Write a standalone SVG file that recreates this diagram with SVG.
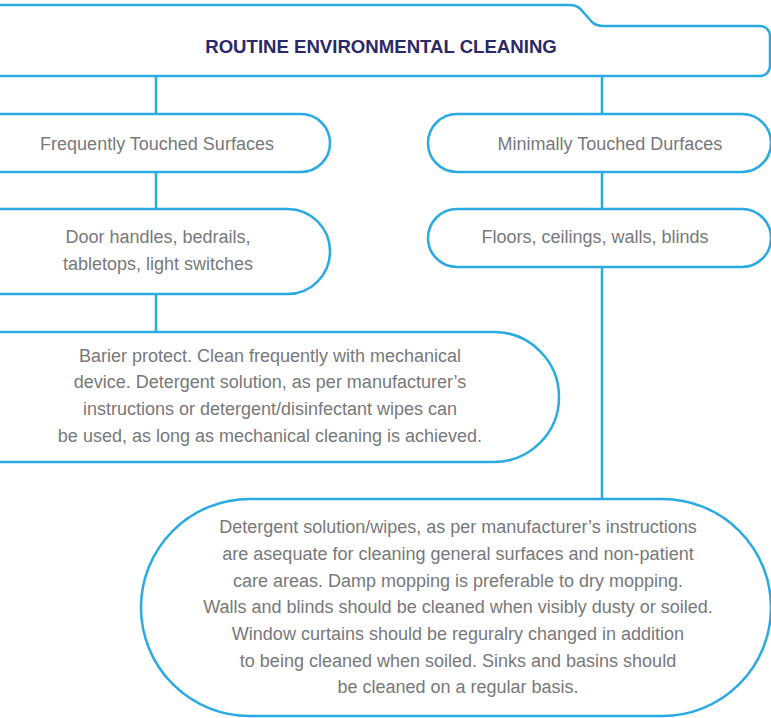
<svg xmlns="http://www.w3.org/2000/svg" width="771" height="718" viewBox="0 0 771 718">
  <style>
    .box { fill: #ffffff; stroke: #29abe2; stroke-width: 2.5; }
    .conn { stroke: #29abe2; stroke-width: 2.5; fill: none; }
    .t { font-family: "Liberation Sans", Arial, sans-serif; font-size: 18px; fill: #77787b; text-anchor: middle; }
    .h { font-family: "Liberation Sans", Arial, sans-serif; font-size: 18.6px; font-weight: bold; fill: #2b2868; text-anchor: middle; }
  </style>
  <rect width="771" height="718" fill="#ffffff"/>
  <g id="connectors">
    <line class="conn" x1="156" y1="76" x2="156" y2="114"/>
    <line class="conn" x1="156" y1="172" x2="156" y2="209"/>
    <line class="conn" x1="156" y1="294" x2="156" y2="332"/>
    <line class="conn" x1="602" y1="76" x2="602" y2="114"/>
    <line class="conn" x1="602" y1="172" x2="602" y2="209"/>
    <line class="conn" x1="602" y1="267" x2="602" y2="499"/>
  </g>
  <g id="header">
    <path class="box" d="M -10 5 H 570 C 577 5 580 8 584 13 L 592 22 C 595 25 598 26 604 26 H 760 A 10 10 0 0 1 770 36 V 66 A 10 10 0 0 1 760 76 H -10 Z"/>
    <text class="h" x="381" y="53">ROUTINE ENVIRONMENTAL CLEANING</text>
  </g>
  <g id="frequently">
    <rect class="box" x="-40" y="114" width="370" height="58" rx="29"/>
    <text class="t" x="157" y="150">Frequently Touched Surfaces</text>
  </g>
  <g id="minimally">
    <rect class="box" x="428" y="114" width="343" height="58" rx="29"/>
    <text class="t" x="610" y="150">Minimally Touched Durfaces</text>
  </g>
  <g id="door">
    <rect class="box" x="-60" y="209" width="390" height="85" rx="42.5"/>
    <text class="t" x="158" y="243">Door handles, bedrails,</text>
    <text class="t" x="158" y="270">tabletops, light switches</text>
  </g>
  <g id="floors">
    <rect class="box" x="428" y="209" width="343" height="58" rx="29"/>
    <text class="t" x="595" y="243">Floors, ceilings, walls, blinds</text>
  </g>
  <g id="barier">
    <rect class="box" x="-100" y="332" width="659" height="130" rx="65"/>
    <text class="t" x="270" y="361.5">Barier protect. Clean frequently with mechanical</text>
    <text class="t" x="270" y="388">device. Detergent solution, as per manufacturer’s</text>
    <text class="t" x="270" y="415">instructions or detergent/disinfectant wipes can</text>
    <text class="t" x="270" y="442">be used, as long as mechanical cleaning is achieved.</text>
  </g>
  <g id="detergent">
    <rect class="box" x="141" y="499" width="630" height="217" rx="108.5"/>
    <text class="t" x="458" y="533">Detergent solution/wipes, as per manufacturer’s instructions</text>
    <text class="t" x="458" y="560">are asequate for cleaning general surfaces and non-patient</text>
    <text class="t" x="458" y="587">care areas. Damp mopping is preferable to dry mopping.</text>
    <text class="t" x="458" y="613">Walls and blinds should be cleaned when visibly dusty or soiled.</text>
    <text class="t" x="458" y="640">Window curtains should be reguralry changed in addition</text>
    <text class="t" x="458" y="667">to being cleaned when soiled. Sinks and basins should</text>
    <text class="t" x="458" y="693">be cleaned on a regular basis.</text>
  </g>
</svg>
